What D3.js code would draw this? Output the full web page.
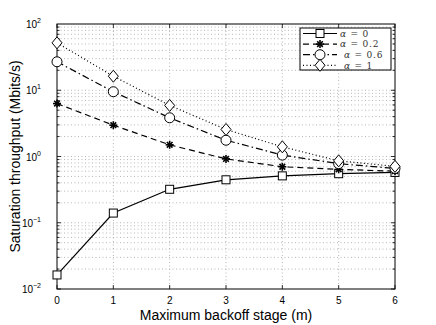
<!DOCTYPE html>
<head>
  <script src="https://d3js.org/d3.v7.min.js"></script>
  <style>
    body { margin: 0; background: #fff; }
    text { font-family: "Liberation Sans", Arial, sans-serif; }
    .grid line { stroke: #999; stroke-width: 0.7; stroke-dasharray: 1,2.5; }
    .leg { font-family: "DejaVu Serif", "Liberation Serif", serif; fill: #333; font-size: 9px; }
  </style>
</head>
<body>
  <svg width="436" height="325"></svg>
  <script>
    (function (d3) {
      'use strict';

      // values
      const stages = [0, 1, 2, 3, 4, 5, 6];
      const alpha0 = [0.0163, 0.14, 0.32, 0.445, 0.51, 0.55, 0.575];
      const alpha02 = [6.3, 2.97, 1.5, 0.92, 0.70, 0.64, 0.60];
      const alpha06 = [26.9, 9.5, 3.84, 1.76, 1.05, 0.78, 0.66];
      const alpha1 = [52, 16.3, 5.9, 2.56, 1.4, 0.86, 0.71];
      const seriesNames = ['0', '0.2', '0.6', '1'];
      const yTickExps = [-2, -1, 0, 1, 2];

      const svg = d3.select('svg');
      const margin = { top: 24, right: 41, bottom: 36, left: 57 };
      const innerWidth = 436 - margin.left - margin.right;
      const innerHeight = 325 - margin.top - margin.bottom;

      const xScale = d3.scaleLinear().domain([0, 6]).range([0, innerWidth]);
      const yScale = d3.scaleLog().domain([0.01, 100]).range([innerHeight, 0]);

      const g = svg.append('g')
        .attr('transform', `translate(${margin.left},${margin.top})`);

      // grid, major and minor
      const minor = [];
      yTickExps.slice(0, -1).forEach(e => {
        for (let k = 1; k <= 9; k++) minor.push(k * Math.pow(10, e));
      });
      const grid = g.append('g').attr('class', 'grid');
      grid.selectAll('.hy').data(minor.slice(1)).enter().append('line')
        .attr('x1', 0).attr('x2', innerWidth)
        .attr('y1', d => yScale(d)).attr('y2', d => yScale(d));
      grid.selectAll('.vx').data(stages.slice(1, -1)).enter().append('line')
        .attr('x1', d => xScale(d)).attr('x2', d => xScale(d))
        .attr('y1', 0).attr('y2', innerHeight);

      // inward ticks on all four sides
      const ticks = g.append('g').attr('stroke', '#000').attr('stroke-width', 0.8);
      stages.forEach(s => {
        ticks.append('line').attr('x1', xScale(s)).attr('x2', xScale(s))
          .attr('y1', innerHeight).attr('y2', innerHeight - 4);
        ticks.append('line').attr('x1', xScale(s)).attr('x2', xScale(s))
          .attr('y1', 0).attr('y2', 4);
      });
      minor.forEach(v => {
        const len = Math.abs(Math.log10(v) - Math.round(Math.log10(v))) < 1e-9 ? 4 : 2.5;
        ticks.append('line').attr('x1', 0).attr('x2', len)
          .attr('y1', yScale(v)).attr('y2', yScale(v));
        ticks.append('line').attr('x1', innerWidth).attr('x2', innerWidth - len)
          .attr('y1', yScale(v)).attr('y2', yScale(v));
      });

      g.append('rect')
        .attr('width', innerWidth).attr('height', innerHeight)
        .attr('fill', 'none').attr('stroke', '#000').attr('stroke-width', 1);

      // tick labels
      g.selectAll('.xl').data(stages).enter().append('text')
        .attr('x', d => xScale(d)).attr('y', innerHeight + 15)
        .attr('text-anchor', 'middle').attr('font-size', 10).text(d => d);

      const yl = g.selectAll('.yl').data(yTickExps).enter().append('text')
        .attr('x', -16).attr('y', d => yScale(Math.pow(10, d)) + 4)
        .attr('text-anchor', 'end').attr('font-size', 10);
      yl.append('tspan').text('10');
      yl.append('tspan').attr('dy', -5).attr('font-size', 7).text(d => d < 0 ? '\u2212' + (-d) : d);

      // axis titles
      g.append('text')
        .attr('x', innerWidth / 2).attr('y', innerHeight + 31)
        .attr('text-anchor', 'middle').attr('font-size', 14)
        .text('Maximum backoff stage (m)');
      g.append('text')
        .attr('transform', `translate(${-37},${innerHeight / 2}) rotate(-90)`)
        .attr('text-anchor', 'middle').attr('font-size', 14)
        .text('Saturation throughput (Mbits/s)');

      // series
      const series = [
        { values: alpha0, dash: null, marker: 'square' },
        { values: alpha02, dash: '6,4', marker: 'star' },
        { values: alpha06, dash: '7,3,1.5,3', marker: 'circle' },
        { values: alpha1, dash: '1,2.5', marker: 'diamond' }
      ];

      const line = d3.line()
        .x((d, i) => xScale(stages[i]))
        .y(d => yScale(d));

      const drawMarker = (sel, type, x, y) => {
        const m = sel.append('g').attr('transform', `translate(${x},${y})`)
          .attr('fill', '#fff').attr('stroke', '#000').attr('stroke-width', 1);
        if (type === 'square') {
          m.append('rect').attr('x', -4).attr('y', -4).attr('width', 8).attr('height', 8);
        } else if (type === 'circle') {
          m.append('circle').attr('r', 5);
        } else if (type === 'diamond') {
          m.append('path').attr('d', 'M0,-6L5,0L0,6L-5,0Z');
        } else {
          [0, 45, 90, 135].forEach(a => {
            m.append('line').attr('x1', -4).attr('x2', 4)
              .attr('transform', `rotate(${a})`).attr('stroke-width', 1.6);
          });
        }
      };

      // lines drawn clipped to plot area
      svg.append('clipPath').attr('id', 'clip').append('rect')
        .attr('width', innerWidth).attr('height', innerHeight);

      series.forEach(s => {
        g.append('path').datum(s.values)
          .attr('clip-path', 'url(#clip)')
          .attr('fill', 'none').attr('stroke', '#000').attr('stroke-width', 1.2)
          .attr('stroke-dasharray', s.dash)
          .attr('d', line);
      });
      series.forEach(s => {
        s.values.forEach((v, i) => drawMarker(g, s.marker, xScale(stages[i]), yScale(v)));
      });

      // legend
      const leg = svg.append('g').attr('transform', 'translate(300,28)');
      leg.append('rect').attr('width', 91).attr('height', 42)
        .attr('fill', '#fff').attr('stroke', '#000').attr('stroke-width', 1);
      series.forEach((s, i) => {
        const y = 5.5 + i * 10.6;
        leg.append('line').attr('x1', 3).attr('x2', 37).attr('y1', y).attr('y2', y)
          .attr('stroke', '#000').attr('stroke-width', 1.2).attr('stroke-dasharray', s.dash);
        drawMarker(leg, s.marker, 20, y);
        const t = leg.append('text').attr('class', 'leg')
          .attr('x', i < 2 ? 40 : 44).attr('y', y + 3.3)
          .attr('letter-spacing', 0.8);
        t.append('tspan').attr('font-style', 'italic').text('\u03b1');
        t.append('tspan').text(' = ' + seriesNames[i]);
      });

    }(d3));
  </script>
</body>
